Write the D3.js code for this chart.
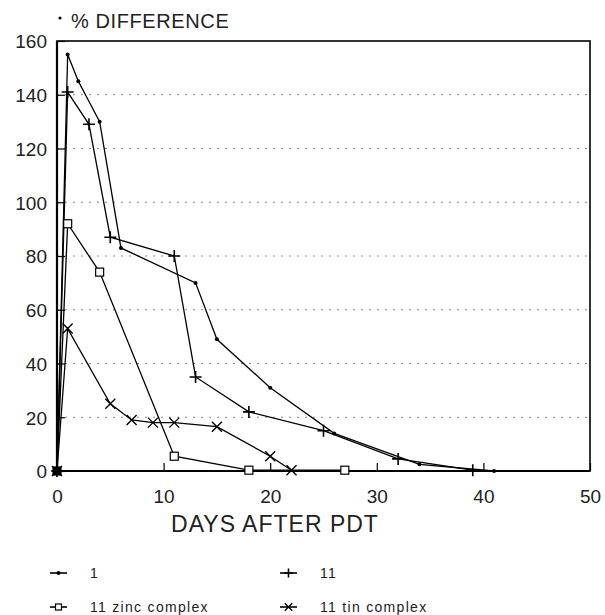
<!DOCTYPE html>
<html><head><meta charset="utf-8">
<script src="https://cdn.jsdelivr.net/npm/d3@7"></script>
<style>
body{margin:0;background:#fff;}
svg{display:block;font-family:"Liberation Sans",Arial,Helvetica,sans-serif;}
</style></head>
<body>
<svg id="chart" width="605" height="615"></svg>
<script>
// ---- data ----
const days1 = [0, 1, 2, 4, 6, 13, 15, 20, 26, 34, 41];
const vals1 = [0, 155, 145, 130, 83, 70, 49, 31, 14, 2.5, 0];
const days11 = [0, 1, 3, 5, 11, 13, 18, 25, 32, 39];
const vals11 = [0, 141, 129, 87, 80, 35, 22, 15, 4.5, 0.3];
const daysZn = [0, 1, 4, 11, 18, 27];
const valsZn = [0, 92, 74, 5.5, 0.3, 0.3];
const daysSn = [0, 1, 5, 7, 9, 11, 15, 20, 22];
const valsSn = [0, 53, 25, 19, 18, 18, 16.5, 5.5, 0.3];
const seriesNames = ["1", "11", "11 zinc complex", "11 tin complex"];
const xTicks = [0, 10, 20, 30, 40, 50];
const yTicks = [0, 20, 40, 60, 80, 100, 120, 140, 160];
const yTitle = "% DIFFERENCE";
const xTitle = "DAYS AFTER PDT";

const svg = d3.select("#chart");
const L = 57, R = 590, T = 41, B = 471;
const x = d3.scaleLinear().domain([0, 50]).range([L, R]);
const y = d3.scaleLinear().domain([0, 160]).range([B, T]);

// grid
svg.append("g").selectAll("line").data(yTicks.filter(d => d > 0 && d < 160)).join("line")
  .attr("x1", L).attr("x2", R).attr("y1", d => y(d)).attr("y2", d => y(d))
  .attr("stroke", "#888").attr("stroke-width", 1).attr("stroke-dasharray", "2,6");

// axes with inward ticks
const yAxis = d3.axisLeft(y).tickValues(yTicks).tickSize(-8).tickPadding(10).tickFormat(d3.format("d"));
const gy = svg.append("g").attr("transform", `translate(${L},0)`).call(yAxis);
const xAxis = d3.axisBottom(x).tickValues(xTicks).tickSize(-8).tickPadding(19).tickFormat(d3.format("d"));
const gx = svg.append("g").attr("transform", `translate(0,${B})`).call(xAxis);
[gx, gy].forEach(g => {
  g.select(".domain").remove();
  g.selectAll(".tick line").attr("stroke", "#000").attr("stroke-width", 1.2);
  g.selectAll(".tick text").attr("fill", "#222").attr("font-size", 19)
    .attr("font-family", "'Liberation Sans',Arial,sans-serif");
});
gy.selectAll(".tick text").attr("dy", "0.36em");
gx.selectAll(".tick text").attr("dy", "0.71em");

// frame
svg.append("rect").attr("x", L).attr("y", T).attr("width", R - L).attr("height", B - T)
  .attr("fill", "none").attr("stroke", "#000").attr("stroke-width", 1.6);
svg.append("line").attr("x1", L).attr("x2", L).attr("y1", T).attr("y2", B).attr("stroke", "#000").attr("stroke-width", 2.2);
svg.append("line").attr("x1", L).attr("x2", R).attr("y1", B).attr("y2", B).attr("stroke", "#000").attr("stroke-width", 2.2);

// titles
svg.append("circle").attr("cx", 60).attr("cy", 18).attr("r", 1.6).attr("fill", "#000");
svg.append("text").attr("x", 71).attr("y", 28).attr("font-size", 20).attr("fill", "#222")
  .attr("letter-spacing", 0.6).text(yTitle);
svg.append("text").attr("x", 275).attr("y", 532).attr("text-anchor", "middle")
  .attr("font-size", 23).attr("fill", "#222").attr("letter-spacing", 1).text(xTitle);

// markers
function marker(g, type, cx, cy, k) {
  k = k || 1;
  if (type === "dot") {
    g.append("circle").attr("cx", cx).attr("cy", cy).attr("r", 2).attr("fill", "#000");
  } else if (type === "plus") {
    g.append("path").attr("d", `M${cx-6*k},${cy}H${cx+6*k}M${cx},${cy-6*k}V${cy+6*k}`)
      .attr("stroke", "#000").attr("stroke-width", 1.6).attr("fill", "none");
  } else if (type === "square") {
    g.append("rect").attr("x", cx - 4*k).attr("y", cy - 4*k).attr("width", 8*k).attr("height", 8*k)
      .attr("fill", "#fff").attr("stroke", "#000").attr("stroke-width", 1.2);
  } else if (type === "cross") {
    g.append("path").attr("d", `M${cx-5*k},${cy-5*k}L${cx+5*k},${cy+5*k}M${cx-5*k},${cy+5*k}L${cx+5*k},${cy-5*k}`)
      .attr("stroke", "#000").attr("stroke-width", 1.4).attr("fill", "none");
  }
}

const series = [
  {name: seriesNames[0], xs: days1, ys: vals1, m: "dot"},
  {name: seriesNames[1], xs: days11, ys: vals11, m: "plus"},
  {name: seriesNames[2], xs: daysZn, ys: valsZn, m: "square"},
  {name: seriesNames[3], xs: daysSn, ys: valsSn, m: "cross"}
];
const line = d3.line().x(d => x(d[0])).y(d => y(d[1]));
series.forEach(s => {
  const pts = s.xs.map((d, i) => [d, s.ys[i]]);
  const g = svg.append("g");
  g.append("path").attr("d", line(pts)).attr("fill", "none").attr("stroke", "#000").attr("stroke-width", 1.3);
  pts.forEach(p => marker(g, s.m, x(p[0]), y(p[1])));
});
// overlapping origin markers appear as a solid block
svg.append("rect").attr("x", x(0) - 4).attr("y", y(0) - 4).attr("width", 8).attr("height", 8).attr("fill", "#000");

// legend
const legPos = [[50, 573], [280, 573], [50, 607], [280, 607]];
series.forEach((s, i) => {
  const [lx, ly] = legPos[i];
  const g = svg.append("g");
  g.append("line").attr("x1", lx).attr("x2", lx + 17).attr("y1", ly).attr("y2", ly)
    .attr("stroke", "#000").attr("stroke-width", 1.6);
  marker(g, s.m, lx + 8.5, ly, 0.75);
  g.append("text").attr("x", lx + 40).attr("y", ly + 5).attr("font-size", 14)
    .attr("letter-spacing", 1.3).attr("fill", "#222").text(s.name);
});
</script>
</body></html>
